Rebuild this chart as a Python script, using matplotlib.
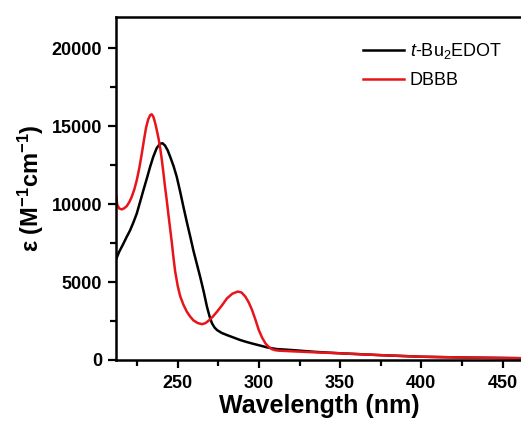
import numpy as np
import matplotlib
matplotlib.use("Agg")
from matplotlib import pyplot as plt
from matplotlib.ticker import MultipleLocator

plt.rcParams['font.family'] = ['Liberation Sans', 'DejaVu Sans']
plt.rcParams['mathtext.fontset'] = 'custom'
plt.rcParams['mathtext.rm'] = 'Liberation Sans'
plt.rcParams['mathtext.it'] = 'Liberation Sans:italic'
plt.rcParams['mathtext.bf'] = 'Liberation Sans:bold'

# t-Bu2EDOT (black)
wl_edot = [212, 214, 216.5, 218.5, 220.6, 222.7, 224.8, 226.8, 228.9, 231, 233, 235, 237.1,
           239.2, 240.7, 242.2, 243.8, 245.3, 247.4, 249.4, 251.5, 253.5, 255.6, 257.7,
           259.7, 261.8, 263.9, 266, 268, 269.6, 271.1, 272.7, 274.2, 277, 280.3, 284.4,
           288.5, 292.6, 296.8, 301, 305, 308, 311.2, 320, 335, 350, 375, 400, 425, 450, 465]
eps_edot = [6450, 6950, 7450, 7880, 8300, 8820, 9400, 10130, 10900, 11650, 12390, 13050, 13600,
            13880, 13900, 13750, 13450, 13050, 12450, 11750, 10800, 9830, 8850, 7920,
            7000, 6150, 5300, 4380, 3420, 2800, 2350, 2080, 1920, 1740, 1600, 1440,
            1280, 1150, 1030, 920, 810, 750, 700, 640, 520, 430, 310, 210, 160, 130, 110]

# DBBB (red)
wl_dbbb = [212, 212.8, 214, 215.5, 217, 218.6, 220.2, 221.7, 223.3, 224.8, 226.4, 227.9,
           229.2, 230.5, 231.8, 233, 234, 235, 236, 237.1, 238.2, 239.2, 240.2, 241.2,
           242.2, 243.3, 244.3, 245.3, 246.4, 247.4, 248.4, 250, 251.5, 253.5, 255.6,
           257.7, 259.7, 262.3, 264.9, 267, 269, 271.6, 274.2, 277.2, 280.3, 283.6, 286.9,
           289.3, 291.6, 293.7, 295.8, 297.9, 299.9, 302, 304, 306, 308.1, 310, 312.2,
           320, 335, 350, 375, 400, 425, 450, 465]
eps_dbbb = [10580, 9940, 9720, 9660, 9730, 9870, 10130, 10470, 10950, 11540, 12340, 13250,
            14100, 14900, 15420, 15700, 15760, 15600, 15250, 14750, 14200, 13600, 12850, 12000,
            11100, 10200, 9300, 8450, 7500, 6550, 5700, 4750, 4100, 3550, 3100,
            2780, 2540, 2370, 2300, 2360, 2520, 2780, 3100, 3500, 3950, 4250, 4390,
            4330, 4070, 3700, 3200, 2570, 1920, 1430, 1070, 840, 690, 630, 600,
            560, 490, 430, 310, 210, 160, 130, 110]

fig = plt.figure(figsize=(5.21, 4.28), dpi=100)
ax = fig.add_axes([116 / 521, 68 / 428, 1 - 116 / 521 + 0.002, (360 - 17) / 428])

ax.plot(wl_edot, eps_edot, color="black", lw=1.8, label="$\\it{t}$-Bu$_2$EDOT")
ax.plot(wl_dbbb, eps_dbbb, color="#e8141a", lw=1.8, label="DBBB")

ax.set_xlim(212, 462)
ax.set_ylim(0, 22000)
ax.xaxis.set_major_locator(MultipleLocator(50))
ax.xaxis.set_minor_locator(MultipleLocator(25))
ax.yaxis.set_major_locator(MultipleLocator(5000))
ax.yaxis.set_minor_locator(MultipleLocator(2500))
ax.tick_params(which="both", direction="out", width=1.6, labelsize=13)
ax.tick_params(which="major", length=6, pad=4)
ax.tick_params(axis="x", which="major", pad=5)
ax.tick_params(which="minor", length=4)
for lab in ax.get_xticklabels() + ax.get_yticklabels():
    lab.set_fontweight("bold")
for s in ax.spines.values():
    s.set_linewidth(1.8)
ax.spines["right"].set_visible(False)

ax.set_xlabel("Wavelength (nm)", fontsize=18, fontweight="bold", labelpad=1)
ax.set_ylabel("ε (M$^{\\mathbf{-1}}$cm$^{\\mathbf{-1}}$)", fontsize=17, fontweight="bold", labelpad=4)

ax.legend(loc="upper left", bbox_to_anchor=(0.59, 0.95), frameon=False, fontsize=13,
          handlelength=2.3, handletextpad=0.3, labelspacing=0.6, borderaxespad=0)

fig.savefig("out.png", dpi=100)
